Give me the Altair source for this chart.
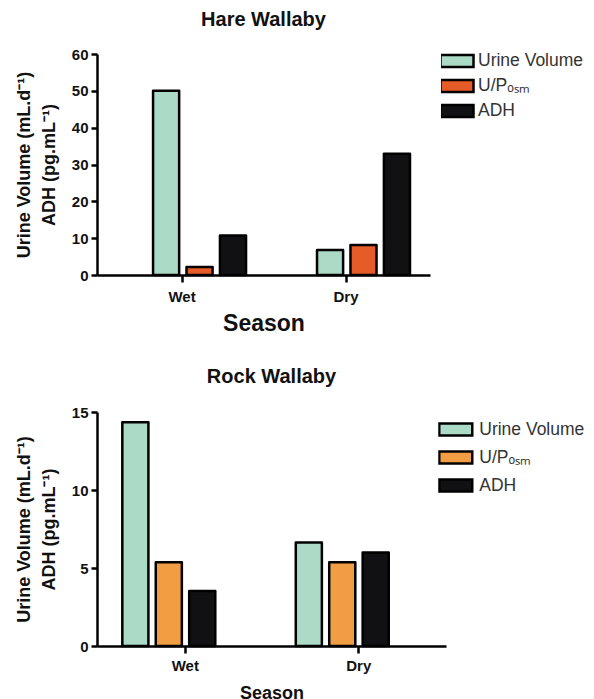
import altair as alt
import pandas as pd

seasons = ["Wet", "Dry"]
series = ["Urine Volume", "U/Pₒₛₘ", "ADH"]

hare_urine = [50.0, 6.8]
hare_uposm = [2.2, 8.15]
hare_adh = [10.7, 32.9]

rock_urine = [14.35, 6.63]
rock_uposm = [5.37, 5.37]
rock_adh = [3.53, 5.99]

hare_colors = ["#abdac6", "#e65c28", "#111114"]
rock_colors = ["#abdac6", "#f19d44", "#111114"]

hare_ticks = [0, 10, 20, 30, 40, 50, 60]
rock_ticks = [0, 5, 10, 15]

FONT = "Liberation Sans"
INK = "#111111"


def rect_path(unit):
    hx = 33.0 / unit
    hy = 12.0 / unit
    return f"M{-hx:.4f},{-hy:.4f}H{hx:.4f}V{hy:.4f}H{-hx:.4f}Z"


def frame(vals_by_series):
    rows = []
    for s, vals in zip(series, vals_by_series):
        for season, v in zip(seasons, vals):
            rows.append({"Season": season, "Series": s, "Value": v})
    return pd.DataFrame(rows)


def panel(df, title, colors, ticks, width, height, xscale, tick_offset, sub_pad,
          season_size, label_pad, season_pad, legend_x, legend_y, sym_unit,
          legend_label_off, row_h, title_offset):
    return alt.Chart(df).mark_bar(
        stroke="black", strokeWidth=2.5, strokeJoin="round"
    ).encode(
        x=alt.X(
            "Season:N", sort=seasons, scale=alt.Scale(**xscale),
            axis=alt.Axis(
                title="Season", titleFontSize=season_size, titleFont=FONT,
                titleFontWeight="bold", titleColor=INK, titlePadding=season_pad,
                labelAngle=0, labelFont=FONT, labelFontWeight="bold",
                labelFontSize=15, labelColor=INK, labelPadding=label_pad,
                domainColor="black", domainWidth=2.5, tickColor="black",
                tickWidth=2.5, tickSize=7, tickOffset=tick_offset, grid=False,
            ),
        ),
        xOffset=alt.XOffset(
            "Series:N", sort=series,
            scale=alt.Scale(paddingInner=sub_pad, paddingOuter=0),
        ),
        y=alt.Y(
            "Value:Q",
            scale=alt.Scale(domain=[ticks[0], ticks[-1]], nice=False),
            axis=alt.Axis(
                values=ticks, format="d",
                title=["Urine Volume (mL.d⁻¹)", "ADH (pg.mL⁻¹)"],
                titleFontSize=18, titleFont=FONT, titleFontWeight="bold",
                titleColor=INK, titleLineHeight=25, titlePadding=13,
                labelFont=FONT, labelFontWeight="bold", labelFontSize=15,
                labelColor=INK, labelPadding=3,
                domainColor="black", domainWidth=2.5, tickColor="black",
                tickWidth=2.5, tickSize=6, grid=False,
            ),
        ),
        color=alt.Color(
            "Series:N", sort=series,
            scale=alt.Scale(domain=series, range=colors),
            legend=alt.Legend(
                title=None, orient="none", legendX=legend_x, legendY=legend_y,
                symbolType=rect_path(sym_unit), symbolSize=sym_unit * sym_unit,
                symbolStrokeColor="black", symbolStrokeWidth=2.5,
                symbolOpacity=1, clipHeight=row_h,
                labelFont=FONT, labelFontSize=17.5, labelColor="#333333",
                labelOffset=legend_label_off, rowPadding=0, padding=0,
            ),
        ),
    ).properties(
        width=width, height=height,
        title=alt.TitleParams(
            title, fontSize=20, font=FONT, fontWeight="bold", color=INK,
            anchor="middle", frame="group", offset=title_offset,
        ),
    )


top = panel(
    frame([hare_urine, hare_uposm, hare_adh]), "Hare Wallaby", hare_colors,
    hare_ticks, 333, 221,
    dict(paddingInner=0.433, paddingOuter=0.232, align=0.737),
    -18, 0.22, 23, 7, 8, 344, -5.5, 29, 5, 25, 17,
)
bottom = panel(
    frame([rock_urine, rock_uposm, rock_adh]), "Rock Wallaby", rock_colors,
    rock_ticks, 349, 234,
    dict(paddingInner=0.28, paddingOuter=0.146, align=0.5),
    0, 0.25, 18, 5, 11, 341.25, 3.75, 32.5, 6, 27.5, 18,
)

chart = alt.vconcat(top, bottom, spacing=32).resolve_scale(
    color="independent"
).resolve_legend(color="independent").properties(
    padding={"left": 7, "top": 2, "right": 0, "bottom": 0}
).configure_view(stroke=None)

chart.save("out.html", embed_options={"renderer": "svg", "actions": False})
